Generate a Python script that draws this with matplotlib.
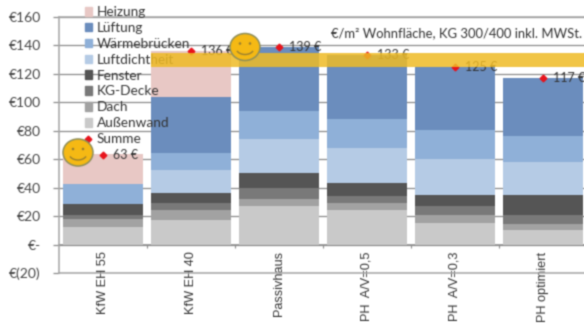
import matplotlib
matplotlib.use("Agg")
import matplotlib.pyplot as plt
import numpy as np
from matplotlib.patches import Ellipse, Rectangle, Arc
from matplotlib.lines import Line2D
from matplotlib.transforms import Affine2D

categories = ["KfW EH 55", "KfW EH 40", "Passivhaus", "PH  A/V=0,5", "PH  A/V=0,3", "PH optimiert"]
aussenwand = [12, 17.5, 27, 24, 15.5, 10.5]
dach = [6, 6.5, 5, 5, 5, 4.2]
kg_decke = [3, 5.5, 8, 5, 6.5, 6.3]
fenster = [7.5, 6.5, 10, 9.5, 7.5, 13.5]
luftdichtheit = [0, 16.5, 24, 24.5, 25.5, 23.5]
waermebruecken = [14, 12, 20, 20, 20.5, 18]
lueftung = [0, 39.5, 45, 45, 44.5, 41]
heizung = [21.5, 32, 0, 0, 0, 0]
summe = [63, 136, 139, 133, 125, 117]
series_names = ["Außenwand", "Dach", "KG-Decke", "Fenster", "Luftdichtheit", "Wärmebrücken", "Lüftung", "Heizung"]
series_values = [aussenwand, dach, kg_decke, fenster, luftdichtheit, waermebruecken, lueftung, heizung]
series_colors = ["#c9c9c9", "#a2a2a2", "#797979", "#555555", "#b5cbe5", "#8fb0d8", "#6b8dbd", "#e8c8c5"]
y_ticks = [-20, 0, 20, 40, 60, 80, 100, 120, 140, 160]
y_labels = ["€(20)", "€-", "€20", "€40", "€60", "€80", "€100", "€120", "€140", "€160"]
target_band = (125, 134.7)

W, H = 584, 329
plt.rcParams["font.family"] = ["Lato", "DejaVu Sans"]
fig = plt.figure(figsize=(W / 100, H / 100), dpi=100)
ax = fig.add_axes([59 / W, 1 - 273 / H, (W - 59) / W, (273 - 17) / H])
ax.set_xlim(-0.5, 5.466)
ax.set_ylim(-20, 160)

x = np.arange(len(categories))
bottom = np.zeros(len(categories))
for name, vals, col in zip(series_names, series_values, series_colors):
    ax.bar(x, vals, 0.91, bottom=bottom, color=col, zorder=3, label=name)
    bottom += np.array(vals)

ax.plot(x, summe, ls="none", marker="D", ms=3.4, color="#e8141c", zorder=4)
for xi, v in zip(x, summe):
    ax.annotate(f"{v} €", (xi, v), xytext=(7, 0), textcoords="offset points",
                va="center", ha="left", fontsize=9, color="#333333", zorder=4)

ax.spines["right"].set_visible(False)
for s in ["left", "bottom", "top"]:
    ax.spines[s].set_color("#a6a6a6")
    ax.spines[s].set_linewidth(1.1)
ax.set_yticks(y_ticks, y_labels)
ax.tick_params(axis="y", length=4, color="#8c8c8c", width=0.9, labelsize=10, labelcolor="#444444", pad=9)
ax.grid(axis="y", color="#8c8c8c", lw=0.9, zorder=1)
ax.set_axisbelow(True)
ax.set_xticks([])

sec = ax.secondary_xaxis(0, transform=ax.transData)
sec.spines["bottom"].set_color("#8c8c8c")
sec.spines["bottom"].set_linewidth(1.1)
sec.set_xticks(x, categories, rotation=90, family="Liberation Sans", fontsize=9.2, color="#333333",
               va="top", ha="center")
sec.set_xticks(x[:-1] + 0.5, minor=True)
sec.tick_params(axis="x", which="major", length=0, pad=5)
sec.tick_params(axis="x", which="minor", length=2.5, color="#8c8c8c", width=0.8)

# legend, listed top to bottom as in the chart
handles = [Rectangle((0, 0), 1, 1, color=c) for c in series_colors[::-1]]
labels = series_names[::-1]
handles.append(Line2D([], [], ls="none", marker="D", ms=3.4, color="#e8141c"))
labels.append("Summe")
leg = ax.legend(handles, labels, loc="upper left", bbox_to_anchor=(80.5 / W, 1 - 2 / H),
                bbox_transform=fig.transFigure, frameon=False, fontsize=9.8, labelcolor="#333333",
                handlelength=0.55, handleheight=0.6, handletextpad=0.35, labelspacing=0.285,
                borderpad=0.3, borderaxespad=0)
leg.set_zorder(5)

fig.text(582 / W, 1 - 33 / H, "€/m² Wohnfläche, KG 300/400 inkl. MWSt.", ha="right", va="center",
         fontsize=9.4, color="#333333", zorder=5)

# target cost band
ax.add_patch(Rectangle((1 - 0.455, target_band[0]), 6, target_band[1] - target_band[0],
                       facecolor="#efbb25", alpha=0.85, edgecolor="none", zorder=6))

# smileys, in pixels from the top left corner
px = Affine2D().scale(1, -1).translate(0, H)
def smiley(cx, cy):
    kw = dict(transform=px, zorder=8)
    fig.add_artist(Ellipse((cx, cy), 30, 27, facecolor="#f5b914", edgecolor="#8f8f5a", lw=1.1, **kw))
    for dx in (-5, 5):
        fig.add_artist(Ellipse((cx + dx, cy - 3.5), 2.6, 2.6, facecolor="#9a8030", edgecolor="none", **kw))
    fig.add_artist(Arc((cx, cy + 1), 18, 13, theta1=20, theta2=160, edgecolor="#9a8030", lw=1, **kw))
smiley(78, 152.5)
smiley(245, 47)

fig.savefig("out.png", dpi=100)

# the reference is a soft, upscaled picture: soften the saved image the same way
img = plt.imread("out.png")[..., :3]
kernel = np.array([0.2, 0.6, 0.2])
for axis in (0, 1):
    img = np.apply_along_axis(lambda r: np.convolve(np.pad(r, 1, mode="edge"), kernel, mode="valid"), axis, img)
plt.imsave("out.png", img)
